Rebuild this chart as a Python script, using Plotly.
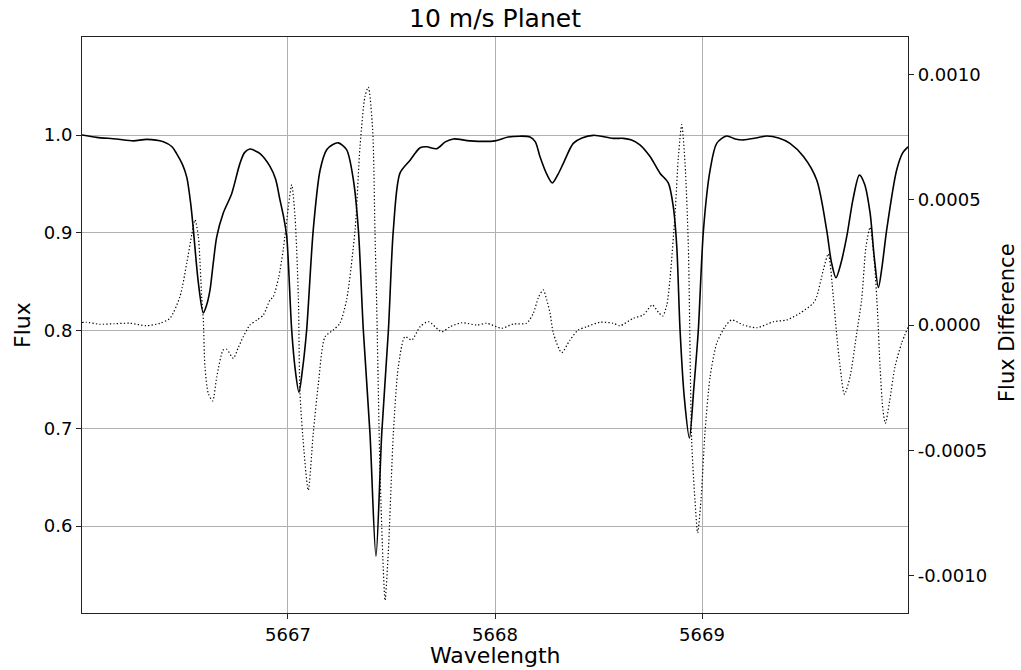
import plotly.graph_objects as go

# ---- data ----
spec_wl = [5666.005, 5666.076, 5666.17, 5666.253, 5666.317, 5666.398, 5666.440, 5666.462, 5666.490,
           5666.511, 5666.530, 5666.543, 5666.567, 5666.591, 5666.607, 5666.623, 5666.639, 5666.656,
           5666.687, 5666.728, 5666.768, 5666.790, 5666.816, 5666.840, 5666.865, 5666.913, 5666.940,
           5666.961, 5666.980, 5666.994, 5667.018, 5667.035, 5667.053, 5667.070, 5667.090, 5667.122,
           5667.155, 5667.187, 5667.215, 5667.243, 5667.283, 5667.316, 5667.340, 5667.364, 5667.396,
           5667.425, 5667.453, 5667.485, 5667.509, 5667.541, 5667.589, 5667.638, 5667.670, 5667.718,
           5667.760, 5667.799, 5667.879, 5668.000, 5668.064, 5668.169, 5668.195, 5668.217, 5668.250,
           5668.277, 5668.305, 5668.330, 5668.378, 5668.420, 5668.475, 5668.571, 5668.620, 5668.660,
           5668.700, 5668.749, 5668.797, 5668.837, 5668.861, 5668.878, 5668.894, 5668.915, 5668.939,
           5668.960, 5668.982, 5669.007, 5669.039, 5669.071, 5669.119, 5669.160, 5669.200, 5669.260,
           5669.313, 5669.370, 5669.425, 5669.490, 5669.554, 5669.602, 5669.625, 5669.647, 5669.670,
           5669.699, 5669.730, 5669.760, 5669.785, 5669.812, 5669.832, 5669.852, 5669.870, 5669.892,
           5669.940, 5669.970, 5669.995]
spec_flux = [1.000, 0.9976, 0.996, 0.994, 0.9956, 0.9932, 0.988, 0.981, 0.970,
             0.957, 0.930, 0.903, 0.849, 0.818, 0.826, 0.841, 0.869, 0.896,
             0.920, 0.940, 0.971, 0.982, 0.9857, 0.984, 0.981, 0.968, 0.955,
             0.934, 0.915, 0.896, 0.800, 0.760, 0.737, 0.760, 0.800, 0.903,
             0.964, 0.985, 0.990, 0.992, 0.985, 0.954, 0.903, 0.800, 0.695,
             0.569, 0.695, 0.800, 0.903, 0.961, 0.974, 0.987, 0.988, 0.986,
             0.993, 0.996, 0.994, 0.994, 0.998, 0.998, 0.993, 0.978, 0.960,
             0.951, 0.960, 0.971, 0.9915, 0.997, 0.9997, 0.9966, 0.9966, 0.995,
             0.990, 0.978, 0.961, 0.951, 0.927, 0.886, 0.800, 0.730, 0.690,
             0.740, 0.800, 0.903, 0.964, 0.9915, 0.999, 0.996, 0.995, 0.997,
             0.999, 0.997, 0.9915, 0.978, 0.954, 0.903, 0.870, 0.854, 0.868,
             0.896, 0.935, 0.959, 0.950, 0.920, 0.875, 0.844, 0.866, 0.903,
             0.964, 0.982, 0.988]

diff_wl = [5666.005, 5666.027, 5666.090, 5666.160, 5666.237, 5666.317, 5666.382, 5666.430, 5666.478,
           5666.511, 5666.535, 5666.551, 5666.567, 5666.583, 5666.591, 5666.599, 5666.615, 5666.636,
           5666.656, 5666.687, 5666.704, 5666.736, 5666.760, 5666.784, 5666.816, 5666.850, 5666.881,
           5666.913, 5666.929, 5666.955, 5666.977, 5667.002, 5667.018, 5667.034, 5667.050, 5667.058,
           5667.077, 5667.098, 5667.122, 5667.147, 5667.179, 5667.219, 5667.251, 5667.283, 5667.324,
           5667.348, 5667.372, 5667.388, 5667.409, 5667.420, 5667.428, 5667.444, 5667.460, 5667.469,
           5667.485, 5667.509, 5667.533, 5667.565, 5667.598, 5667.638, 5667.678, 5667.743, 5667.783,
           5667.839, 5667.912, 5667.960, 5668.032, 5668.088, 5668.153, 5668.185, 5668.210, 5668.233,
           5668.250, 5668.266, 5668.282, 5668.322, 5668.362, 5668.402, 5668.443, 5668.507, 5668.571,
           5668.604, 5668.668, 5668.716, 5668.760, 5668.790, 5668.810, 5668.830, 5668.845, 5668.870,
           5668.886, 5668.902, 5668.918, 5668.934, 5668.950, 5668.966, 5668.979, 5668.995, 5669.014,
           5669.039, 5669.071, 5669.111, 5669.143, 5669.200, 5669.264, 5669.345, 5669.409, 5669.473,
           5669.537, 5669.554, 5669.586, 5669.610, 5669.634, 5669.650, 5669.667, 5669.688, 5669.715,
           5669.747, 5669.771, 5669.792, 5669.812, 5669.833, 5669.848, 5669.860, 5669.874, 5669.886,
           5669.907, 5669.932, 5669.964, 5669.995]
diff_val = [0.000010, 0.000011, 0.000003, 0.000005, 0.000007, -0.000003, 0.000007, 0.000027, 0.000113,
            0.000247, 0.000360, 0.000420, 0.000353, 0.000113, 0.000020, -0.000167, -0.000273, -0.000303,
            -0.000207, -0.000100, -0.000097, -0.000133, -0.000090, -0.000047, 0.000000, 0.000020, 0.000040,
            0.000100, 0.000113, 0.000190, 0.000300, 0.000473, 0.000560, 0.000433, 0.000113, -0.000273,
            -0.000500, -0.000660, -0.000433, -0.000233, -0.000047, -0.000020, 0.000007, 0.000100, 0.000380,
            0.000713, 0.000913, 0.000950, 0.000780, 0.000380, 0.000100, -0.000567, -0.000967, -0.001100,
            -0.000900, -0.000433, -0.000167, -0.000047, -0.000060, -0.000007, 0.000013, -0.000027, -0.000007,
            0.000009, 0.000000, 0.000007, -0.000013, 0.000004, 0.000007, 0.000047, 0.000110, 0.000140,
            0.000100, 0.000047, -0.000033, -0.000110, -0.000060, -0.000020, -0.000007, 0.000011, 0.000007,
            -0.000003, 0.000027, 0.000040, 0.000080, 0.000050, 0.000036, 0.000080, 0.000180, 0.000447,
            0.000673, 0.000800, 0.000647, 0.000313, -0.000460, -0.000700, -0.000830, -0.000700, -0.000433,
            -0.000207, -0.000073, -0.000007, 0.000020, 0.000000, -0.000011, 0.000013, 0.000020, 0.000047,
            0.000087, 0.000113, 0.000220, 0.000284, 0.000113, -0.000033, -0.000167, -0.000277, -0.000207,
            -0.000033, 0.000100, 0.000313, 0.000390, 0.000247, 0.000050, -0.000167, -0.000340, -0.000393,
            -0.000300, -0.000167, -0.000073, -0.000010]

x_ticks = [5667, 5668, 5669]
y_ticks = [0.6, 0.7, 0.8, 0.9, 1.0]
y2_ticks = [-0.001, -0.0005, 0.0, 0.0005, 0.001]
y2_labels = ["-0.0010", "-0.0005", "0.0000", "0.0005", "0.0010"]

W, H = 1021, 670
L, R, T, B = 82, 908, 37, 613
FONT = "DejaVu Sans"

fig = go.Figure()
fig.add_trace(go.Scatter(x=spec_wl, y=spec_flux, mode="lines",
                         line=dict(color="black", width=1.6, shape="spline", smoothing=0.8),
                         yaxis="y", showlegend=False))
fig.add_trace(go.Scatter(x=diff_wl, y=diff_val, mode="lines",
                         line=dict(color="black", width=1.2, dash="1.3px,2.2px",
                                   shape="spline", smoothing=0.7),
                         yaxis="y2", showlegend=False))

axis_common = dict(showline=True, linecolor="#222", linewidth=1.1,
                   ticks="outside", ticklen=5, tickwidth=1, tickcolor="#222",
                   tickfont=dict(family=FONT, size=18, color="black"), zeroline=False)

fig.update_layout(
    width=W, height=H,
    margin=dict(l=L, r=W - R, t=T, b=H - B, autoexpand=False),
    paper_bgcolor="white", plot_bgcolor="white",
    font=dict(family=FONT, color="black"),
    title=dict(text="10 m/s Planet", x=(L + R) / 2 / W, xanchor="center",
               y=1 - 18 / H, yanchor="middle", yref="container",
               font=dict(family=FONT, size=25, color="black")),
    xaxis=dict(range=[5666.005, 5669.995], tickvals=x_ticks, ticktext=[str(t) for t in x_ticks],
               showgrid=True, gridcolor="#b0b0b0", gridwidth=1, mirror=True, **axis_common),
    yaxis=dict(range=[0.511, 1.1003], tickvals=y_ticks, ticktext=[f"{v:.1f}" for v in y_ticks],
               showgrid=True, gridcolor="#b0b0b0", gridwidth=1, side="left", **axis_common),
    yaxis2=dict(range=[-0.00115, 0.00115], tickvals=y2_ticks, ticktext=y2_labels,
                overlaying="y", side="right", showgrid=False, **axis_common),
    annotations=[
        dict(text="Wavelength", x=(L + R) / 2 / W, y=1 - 655 / H, xref="paper", yref="paper",
             xanchor="center", yanchor="middle", showarrow=False,
             font=dict(family=FONT, size=22, color="black")),
        dict(text="Flux", x=23 / W, y=1 - 325 / H, xref="paper", yref="paper",
             xanchor="center", yanchor="middle", showarrow=False, textangle=-90,
             font=dict(family=FONT, size=22, color="black")),
        dict(text="Flux Difference", x=1007 / W, y=1 - 323 / H, xref="paper", yref="paper",
             xanchor="center", yanchor="middle", showarrow=False, textangle=-90,
             font=dict(family=FONT, size=21, color="black")),
    ],
)

# annotations were given in pixel (container) positions; convert to plot-area paper coords
for a in fig.layout.annotations:
    px_x = a.x * W
    px_y = (1 - a.y) * H
    a.x = (px_x - L) / (R - L)
    a.y = 1 - (px_y - T) / (B - T)

fig.write_html("out.html")
